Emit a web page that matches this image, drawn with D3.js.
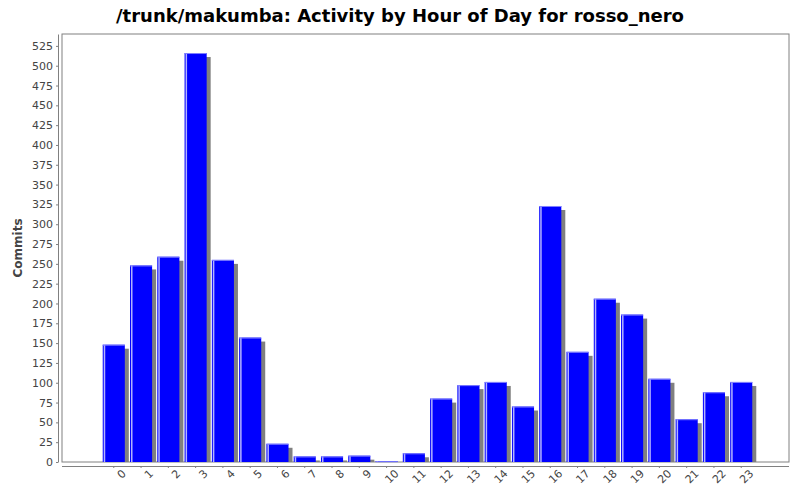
<!DOCTYPE html>
<html><head><meta charset="utf-8">
<script src="https://cdn.jsdelivr.net/npm/d3@7"></script>
<style>body{margin:0;background:#fff}text{font-family:"DejaVu Sans",sans-serif}</style>
</head><body><svg id="c" width="800" height="500"></svg>
<script>
const hours = d3.range(24).map(String);
const commits = [148,248,259,516,255,157,23,7,7,8,1,11,80,97,101,70,323,139,206,186,105,54,88,101];
const yTicks = d3.range(0, 526, 25);

const svg = d3.select("#c");
const plotL = 62, plotR = 789, plotT = 34, plotB = 462;

// title
svg.append("text").attr("x", 400).attr("y", 22).attr("text-anchor", "middle")
  .style("font-size", "18px").style("font-weight", "bold")
  .text("/trunk/makumba: Activity by Hour of Day for rosso_nero");

const x = d3.scaleBand().domain(hours).range([100, 755]).paddingInner(0.19).paddingOuter(0.1);
const y = d3.scaleLinear().domain([0, 540]).range([plotB, plotT]);

svg.append("rect").attr("x", plotL).attr("y", plotT).attr("width", plotR - plotL).attr("height", plotB - plotT)
  .attr("fill", "#fff").attr("stroke", "#808080");

// shadows
svg.append("g").selectAll("rect").data(commits).join("rect")
  .attr("x", (d, i) => x(hours[i]) + 4).attr("y", d => y(d) + 4)
  .attr("width", x.bandwidth()).attr("height", d => Math.max(0, plotB - y(d) - 4))
  .attr("fill", "#808080");
// bars
svg.append("g").selectAll("rect").data(commits).join("rect")
  .attr("x", (d, i) => x(hours[i])).attr("y", d => y(d))
  .attr("width", x.bandwidth()).attr("height", d => plotB - y(d))
  .attr("fill", "#0000ff");
// highlight strips
svg.append("g").selectAll("rect").data(commits).join("rect")
  .attr("x", (d, i) => x(hours[i]) + 1).attr("y", d => y(d))
  .attr("width", 1.5).attr("height", d => plotB - y(d))
  .attr("fill", "#ffffff").attr("opacity", 0.7);
svg.append("g").selectAll("rect").data(commits).join("rect")
  .attr("x", (d, i) => x(hours[i])).attr("y", d => y(d))
  .attr("width", x.bandwidth()).attr("height", 1)
  .attr("fill", "#8080ff");

// y axis
const ya = svg.append("g").attr("transform", `translate(${plotL - 4},0)`)
  .call(d3.axisLeft(y).tickValues(yTicks).tickSize(2).tickSizeOuter(0));
ya.select(".domain").attr("stroke", "#808080");
ya.selectAll("line").attr("stroke", "#808080");
ya.selectAll("text").style("font-size", "11px").attr("fill", "#444");

// x axis
const xa = svg.append("g").attr("transform", `translate(0,${plotB + 4})`)
  .call(d3.axisBottom(x).tickSize(2).tickSizeOuter(0));
xa.select(".domain").attr("d", `M${plotL},0.5H${plotR}`).attr("stroke", "#808080");
xa.selectAll("line").attr("stroke", "#808080");
xa.selectAll("text").style("font-size", "11px").attr("fill", "#444")
  .attr("text-anchor", "end").attr("dx", "0.3em").attr("dy", "0.9em")
  .attr("transform", "rotate(-45)");

svg.append("text").attr("transform", `translate(22,${(plotT + plotB) / 2}) rotate(-90)`)
  .attr("text-anchor", "middle").style("font-size", "12px").style("font-weight", "bold")
  .attr("fill", "#444").text("Commits");
</script></body></html>
